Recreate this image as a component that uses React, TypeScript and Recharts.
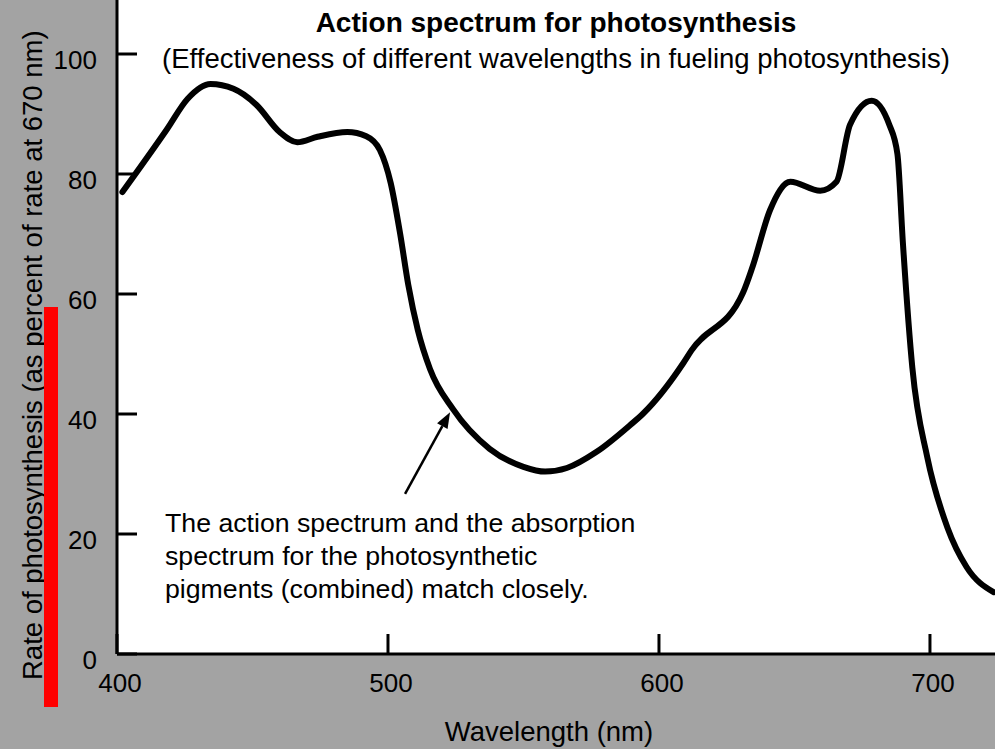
import React from "react";
import { LineChart, Line, XAxis, YAxis, CartesianGrid, ReferenceLine } from "recharts";

// wavelength (nm)
const wavelengths = [
  402, 418.5, 426, 434.5, 443, 451.5, 460, 466.5, 474, 485,
  492, 497, 501, 504.5, 507.5, 511, 515.5, 524, 537.5, 550,
  558, 566, 577, 589.5, 594, 609, 612, 631, 634.5, 641, 648.5,
  659.5, 665.5, 670.5, 678.5, 685, 688, 690, 693.5, 699, 706.5,
  713.5, 723.5,
];

// rate of photosynthesis (% of rate at 670 nm)
const rates = [
  77, 87.5, 92.5, 95, 94.2, 91.5, 87, 85.3, 86.2, 87,
  86.3, 84, 78.5, 70, 61.5, 54, 47.5, 40.8, 34.2, 31.2,
  30.4, 31, 33.7, 38.2, 40, 48.5, 50.6, 60.2, 64.5, 74, 78.7,
  77.2, 78.7, 88.2, 92.2, 88.2, 83.3, 68.6, 47.7, 32.8, 21,
  14.5, 10.3,
];

const xTicks = [400, 500, 600, 700];
const yTicks = [0, 20, 40, 60, 80, 100];

// arrow from the note up to the curve
const arrowFrom = { x: 506.3, y: 26.7 };
const arrowTo = { x: 522.9, y: 40.3 };

const noteLines = [
  "The action spectrum and the absorption",
  "spectrum for the photosynthetic",
  "pigments (combined) match closely.",
];

const data = wavelengths.map((w, i) => ({ wavelength: w, rate: rates[i] }));

const FONT = "'Liberation Sans', Arial, Helvetica, sans-serif";

const XTick = (props: any) => (
  <text x={props.x + 3} y={692} textAnchor="middle" fontSize={26} fontFamily={FONT} fill="#000">
    {props.payload.value}
  </text>
);

const YTick = (props: any) => (
  <text x={97} y={props.y + 15} textAnchor="end" fontSize={26} fontFamily={FONT} fill="#000">
    {props.payload.value}
  </text>
);

const Arrow = (props: any) => {
  const { x1, y1, x2, y2 } = props;
  const a = Math.atan2(y2 - y1, x2 - x1);
  const len = 16;
  const half = 6;
  const bx = x2 - len * Math.cos(a);
  const by = y2 - len * Math.sin(a);
  const px = -Math.sin(a) * half;
  const py = Math.cos(a) * half;
  return (
    <g>
      <line x1={x1} y1={y1} x2={bx} y2={by} stroke="#000" strokeWidth={2.5} />
      <polygon points={`${x2},${y2} ${bx + px},${by + py} ${bx - px},${by - py}`} fill="#000" />
    </g>
  );
};

const App = () => {
  return (
    <div style={{ position: "absolute", left: 0, top: 0, width: 995, height: 749, background: "#a3a3a3", overflow: "hidden" }}>
      <LineChart width={995} height={749} data={data} margin={{ top: 0, right: 0, bottom: 0, left: 0 }}>
        <CartesianGrid horizontal={false} vertical={false} fill="#ffffff" stroke="none" />
        <XAxis
          dataKey="wavelength"
          type="number"
          domain={[400, 724]}
          ticks={xTicks}
          allowDataOverflow
          height={95}
          stroke="#000"
          strokeWidth={3}
          tickSize={-20}
          tickLine={{ stroke: "#000", strokeWidth: 3 }}
          tick={<XTick />}
        />
        <YAxis
          type="number"
          domain={[0, 109]}
          ticks={yTicks}
          allowDataOverflow
          width={117}
          stroke="#000"
          strokeWidth={3}
          tickSize={-20}
          tickLine={{ stroke: "#000", strokeWidth: 3 }}
          tick={<YTick />}
        />
        <ReferenceLine segment={[arrowFrom, arrowTo]} shape={<Arrow />} ifOverflow="visible" />
        <Line
          type="monotone"
          dataKey="rate"
          stroke="#000"
          strokeWidth={6}
          strokeLinecap="round"
          dot={false}
          activeDot={false}
          isAnimationActive={false}
        />
      </LineChart>
      <svg width={995} height={749} style={{ position: "absolute", left: 0, top: 0, pointerEvents: "none" }}>
        <text x={556} y={32} textAnchor="middle" fontSize={28} fontWeight="bold" fontFamily={FONT} fill="#000">
          Action spectrum for photosynthesis
        </text>
        <text x={556} y={68} textAnchor="middle" fontSize={27.5} fontFamily={FONT} fill="#000">
          (Effectiveness of different wavelengths in fueling photosynthesis)
        </text>
        {noteLines.map((t, i) => (
          <text key={i} x={165} y={532 + i * 33} fontSize={26.7} fontFamily={FONT} fill="#000">
            {t}
          </text>
        ))}
        <text x={549} y={741} textAnchor="middle" fontSize={27.5} fontFamily={FONT} fill="#000">
          Wavelength (nm)
        </text>
        <text transform="translate(42,680) rotate(-90)" textAnchor="start" fontSize={27.5} fontFamily={FONT} fill="#000">
          Rate of photosynthesis (as percent of rate at 670 nm)
        </text>
        <rect x={44} y={307} width={14} height={400} fill="#ff0000" />
      </svg>
    </div>
  );
};

export default App;
